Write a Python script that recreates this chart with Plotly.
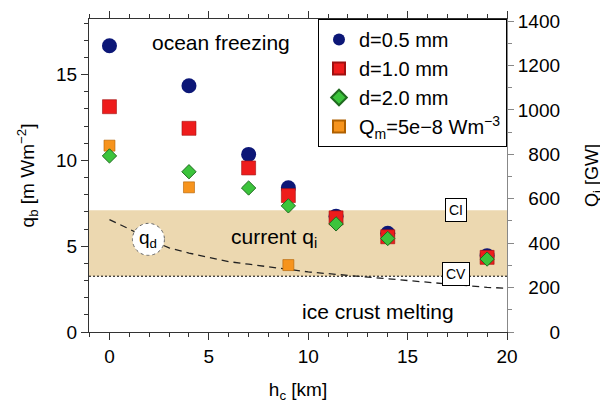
import plotly.graph_objects as go

# ---- data ----
h_c = [0, 4, 7, 9, 11.4, 14, 19]
qb_d05 = [16.68, 14.35, 10.35, 8.4, 6.75, 5.75, 4.45]
qb_d10 = [13.13, 11.87, 9.56, 7.95, 6.65, 5.55, 4.35]
qb_d20 = [10.26, 9.34, 8.39, 7.35, 6.3, 5.45, 4.25]
h_c_qm = [0, 4, 9]
qb_qm = [10.86, 8.43, 3.9]
h_c_qd = list(range(0, 21))
qb_qd = [6.55, 6.0, 5.4, 4.9, 4.6, 4.35, 4.1, 3.95, 3.8, 3.65, 3.5,
         3.4, 3.3, 3.2, 3.1, 3.0, 2.9, 2.8, 2.7, 2.6, 2.55]
qi_low, qi_high = 3.25, 7.1
x_ticks = [0, 5, 10, 15, 20]
y_ticks = [0, 5, 10, 15]
y2_ticks = [0, 200, 400, 600, 800, 1000, 1200, 1400]
y_range = [0, 18.24]
y2_range = [0, 1409]
x_range = [-1.03, 20]

FONT = "Liberation Sans, Arial, sans-serif"
AX = "#333333"

fig = go.Figure()

# current q_i band + lower dotted boundary
fig.add_shape(type="rect", xref="x domain", x0=0, x1=1, yref="y",
              y0=qi_low, y1=qi_high, fillcolor="#ecd8b0", line_width=0, layer="below")
fig.add_shape(type="line", xref="x domain", x0=0, x1=1, yref="y",
              y0=qi_low, y1=qi_low, line=dict(color="black", width=1, dash="2px,2px"),
              layer="below")

# q_d dashed curve
fig.add_trace(go.Scatter(x=h_c_qd, y=qb_qd, mode="lines",
                         line=dict(color="#222222", width=1.3, dash="7px,5px"),
                         showlegend=False, hoverinfo="skip"))

fig.add_trace(go.Scatter(x=h_c, y=qb_d05, mode="markers", name="d=0.5 mm",
                         legendrank=1,
                         marker=dict(symbol="circle", size=15, color="#0c1777",
                                     line=dict(width=0))))
fig.add_trace(go.Scatter(x=h_c, y=qb_d10, mode="markers", name="d=1.0 mm",
                         legendrank=2,
                         marker=dict(symbol="square", size=14, color="#ee1c1c",
                                     line=dict(width=0.6, color="#a01010"))))
fig.add_trace(go.Scatter(x=h_c_qm, y=qb_qm, mode="markers",
                         name="Q<sub>m</sub>=5e\u22128 Wm<sup>\u22123</sup>",
                         legendrank=4,
                         marker=dict(symbol="square", size=11, color="#f7941d",
                                     line=dict(width=0.6, color="#b06000"))))
fig.add_trace(go.Scatter(x=h_c, y=qb_d20, mode="markers", name="d=2.0 mm",
                         legendrank=3,
                         marker=dict(symbol="diamond", size=11, color="#3cc43c",
                                     line=dict(width=1, color="#1f6a1f"))))
# dummy trace to activate the right axis
fig.add_trace(go.Scatter(x=[None], y=[None], yaxis="y2", showlegend=False,
                         hoverinfo="skip"))

# q_d circular label
fig.add_shape(type="circle", xref="x", yref="y", xsizemode="pixel", ysizemode="pixel",
              xanchor=1.96, yanchor=5.4, x0=-16, x1=16, y0=-16, y1=16,
              fillcolor="white", line=dict(color="#666666", width=1, dash="dot"),
              layer="above")

ann_font = dict(family=FONT, size=21, color="black")
fig.add_annotation(x=1.96, y=5.4, text="q<sub>d</sub>", showarrow=False,
                   font=dict(family=FONT, size=19, color="black"))
fig.add_annotation(x=5.63, y=16.86, text="ocean freezing", showarrow=False, font=ann_font)
fig.add_annotation(x=8.3, y=5.48, text="current q<sub>i</sub>", showarrow=False, font=ann_font)
fig.add_annotation(x=13.5, y=1.17, text="ice crust melting", showarrow=False, font=ann_font)
box = dict(showarrow=False, bgcolor="white", bordercolor="black", borderwidth=1,
           borderpad=3, font=dict(family=FONT, size=14, color="black"))
fig.add_annotation(x=17.44, y=7.11, text="CI", **box)
fig.add_annotation(x=17.44, y=3.38, text="CV", **box)

tickfont = dict(family=FONT, size=19, color="black")
titlefont = dict(family=FONT, size=19, color="black")

fig.update_layout(
    width=608, height=400,
    margin=dict(l=81, r=109, t=11, b=76, autoexpand=False),
    paper_bgcolor="white", plot_bgcolor="white",
    font=dict(family=FONT, color="black"),
    xaxis=dict(range=x_range, tickvals=x_ticks, ticks="outside", ticklen=7,
               tickwidth=1, tickcolor=AX, showline=True, linecolor=AX, linewidth=1,
               mirror="ticks", showgrid=False, zeroline=False,
               minor=dict(dtick=1, tick0=0, ticks="outside", ticklen=4, tickcolor=AX),
               tickfont=tickfont, automargin=False,
               title=dict(text="h<sub>c</sub> [km]", font=titlefont, standoff=16)),
    yaxis=dict(range=y_range, tickvals=y_ticks, ticks="outside", ticklen=7,
               tickwidth=1, tickcolor=AX, showline=True, linecolor=AX, linewidth=1,
               showgrid=False, zeroline=False,
               minor=dict(dtick=1, tick0=0, ticks="outside", ticklen=4, tickcolor=AX),
               tickfont=tickfont, automargin=False,
               title=dict(text="q<sub>b</sub> [m Wm<sup>\u22122</sup>]", font=titlefont,
                          standoff=16)),
    yaxis2=dict(range=y2_range, overlaying="y", side="right", tickvals=y2_ticks,
                ticktext=[("\u2007" * (4 - len(str(v)))) + str(v) for v in y2_ticks],
                ticks="outside", ticklen=6, tickwidth=1, tickcolor="#888888",
                showline=True, linecolor="#888888", linewidth=1,
                showgrid=False, zeroline=False,
                minor=dict(dtick=100, tick0=0, ticks="outside", ticklen=4,
                           tickcolor="#888888"),
                tickfont=tickfont, automargin=False,
                title=dict(text="Q<sub>i</sub> [GW]", font=dict(family=FONT, size=18,
                                                                color="black"),
                           standoff=26)),
    legend=dict(x=1, y=1, xanchor="right", yanchor="top", bgcolor="white",
                bordercolor="black", borderwidth=1, font=dict(family=FONT, size=20),
                itemsizing="constant", tracegroupgap=0),
    showlegend=True,
)

fig.write_html("out.html")
